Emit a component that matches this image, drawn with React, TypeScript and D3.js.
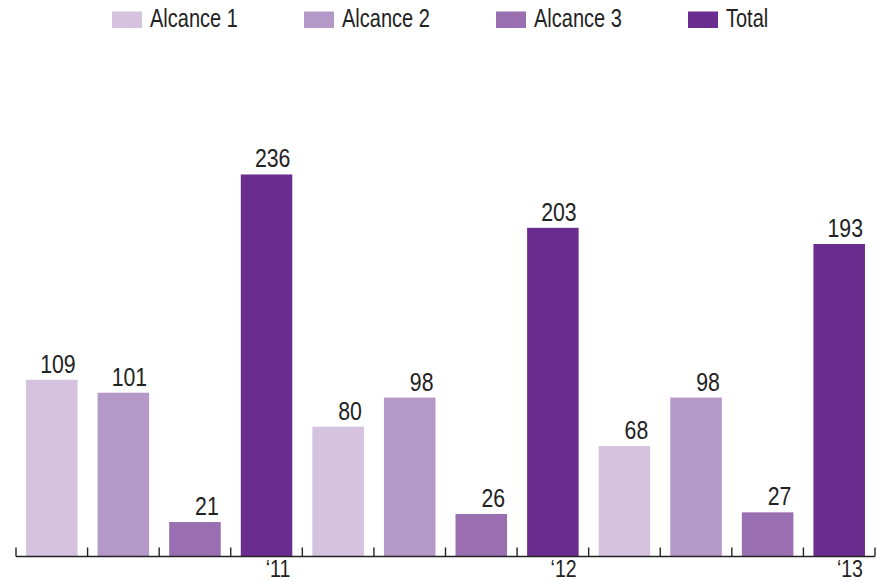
import React from "react";
import * as d3 from "d3";

// Emission scopes per year
const years = ["\u201811", "\u201812", "\u201813"];
const seriesNames = ["Alcance 1", "Alcance 2", "Alcance 3", "Total"];
const alcance1 = [109, 80, 68];
const alcance2 = [101, 98, 98];
const alcance3 = [21, 26, 27];
const total = [236, 203, 193];
const colors = ["#d4c2df", "#b499c8", "#9a6fb1", "#6a2d8f"];

const W = 877;
const H = 582;
const FONT = "'Liberation Sans', Arial, sans-serif";

type Bar = { key: string; year: number; series: number; value: number };

export default function App() {
  const seriesValues = [alcance1, alcance2, alcance3, total];
  const bars: Bar[] = [];
  years.forEach((_, yi) => {
    seriesValues.forEach((vals, si) => {
      bars.push({ key: `${yi}-${si}`, year: yi, series: si, value: vals[yi] });
    });
  });

  const x = d3
    .scaleBand<string>()
    .domain(bars.map((b) => b.key))
    .range([16, 875])
    .paddingInner(0.28)
    .paddingOuter(0.14);
  const y = d3.scaleLinear().domain([0, 300]).range([556, 71]);

  const step = x.step();
  const x0 = 16;
  const tickXs = d3.range(bars.length + 1).map((i) => x0 + i * step);
  const baseY = y(0);

  return (
    <svg width={W} height={H} style={{ position: "absolute", left: 0, top: 0 }}>
      <rect width={W} height={H} fill="#fff" />
      {/* legend */}
      {seriesNames.map((name, i) => {
        const lx = 112 + i * 192;
        return (
          <g key={name}>
            <rect x={lx} y={11.5} width={30} height={16.5} fill={colors[i]} />
            <text
              transform={`translate(${lx + 38},27) scale(0.8,1)`}
              fontFamily={FONT}
              fontSize={25}
              fill="#222"
            >
              {name}
            </text>
          </g>
        );
      })}
      {/* bars */}
      {bars.map((b) => {
        const bx = x(b.key)!;
        const bw = x.bandwidth();
        const top = y(b.value);
        return (
          <g key={b.key}>
            <rect x={bx} y={top} width={bw} height={baseY - top} fill={colors[b.series]} />
            <text
              transform={`translate(${bx + bw - 2},${top - 7}) scale(0.85,1)`}
              textAnchor="end"
              fontFamily={FONT}
              fontSize={25}
              fill="#222"
            >
              {b.value}
            </text>
          </g>
        );
      })}
      {/* axis */}
      <line x1={x0} x2={tickXs[tickXs.length - 1]} y1={baseY + 0.5} y2={baseY + 0.5} stroke="#222" strokeWidth={1.6} />
      {tickXs.map((tx, i) => (
        <line key={i} x1={tx} x2={tx} y1={baseY - 8.5} y2={baseY + 0.5} stroke="#222" strokeWidth={1.4} />
      ))}
      {years.map((yr, yi) => {
        const key = `${yi}-3`;
        const bx = x(key)! + x.bandwidth();
        return (
          <text
            key={yr}
            transform={`translate(${bx - 2},577) scale(0.85,1)`}
            textAnchor="end"
            fontFamily={FONT}
            fontSize={23}
            fill="#222"
          >
            {yr}
          </text>
        );
      })}
    </svg>
  );
}
